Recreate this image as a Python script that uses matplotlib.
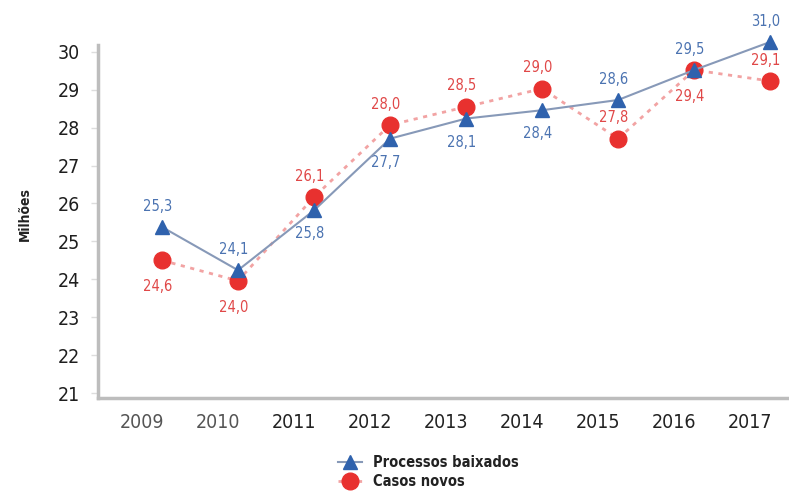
import matplotlib
matplotlib.use("Agg")
import matplotlib.pyplot as plt
from matplotlib.transforms import ScaledTranslation

plt.rcParams['font.family'] = ['DejaVu Sans']
plt.rcParams['font.stretch'] = 'condensed'

years = [2009, 2010, 2011, 2012, 2013, 2014, 2015, 2016, 2017]
baixados = [25.38, 24.24, 25.82, 27.71, 28.24, 28.46, 28.73, 29.52, 30.26]
casos = [24.50, 23.96, 26.17, 28.07, 28.55, 29.03, 27.71, 29.52, 29.23]
baixados_lbl = ['25,3', '24,1', '25,8', '27,7', '28,1', '28,4', '28,6', '29,5', '31,0']
casos_lbl = ['24,6', '24,0', '26,1', '28,0', '28,5', '29,0', '27,8', '29,4', '29,1']
# 1 = label above the marker, -1 = below
baixados_side = [1, 1, -1, -1, -1, -1, 1, 1, 1]
casos_side = [-1, -1, 1, 1, 1, 1, 1, -1, 1]

BLUE = '#2f62ad'
BLUE_LINE = '#8799b8'
BLUE_TXT = '#4b73b1'
RED = '#e8312f'
RED_LINE = '#f2a3a3'
RED_TXT = '#e04848'
GRAY = '#bdbdbd'

fig = plt.figure(figsize=(7.89, 5), dpi=100)
ax = fig.add_axes([0.1242, 0.204, 0.876, 0.706])

ax.plot(years, casos, color=RED_LINE, linestyle=(0, (1.5, 2)), linewidth=2,
        marker='o', markersize=12, markerfacecolor=RED, markeredgecolor=RED,
        label='Casos novos', clip_on=False, zorder=3)
ax.plot(years, baixados, color=BLUE_LINE, linestyle='-', linewidth=1.5,
        marker='^', markersize=10, markerfacecolor=BLUE, markeredgecolor=BLUE,
        label='Processos baixados', clip_on=False, zorder=4)

for x, y, t, s in zip(years, baixados, baixados_lbl, baixados_side):
    ax.annotate(t, (x, y), xytext=(-3, 15 if s > 0 else -17),
                textcoords='offset points', ha='center', va='center',
                fontsize=10.5, color=BLUE_TXT, annotation_clip=False)
for x, y, t, s in zip(years, casos, casos_lbl, casos_side):
    ax.annotate(t, (x, y), xytext=(-3, 15 if s > 0 else -19),
                textcoords='offset points', ha='center', va='center',
                fontsize=10.5, color=RED_TXT, annotation_clip=False)

ax.set_xlim(2008.158, 2017.25)
ax.set_ylim(20.87, 30.18)
ax.set_yticks(range(21, 31))
ax.set_xticks(years)
ax.set_xticklabels([str(y) for y in years])

for side in ['top', 'right']:
    ax.spines[side].set_visible(False)
for side in ['left', 'bottom']:
    ax.spines[side].set_color(GRAY)
    ax.spines[side].set_linewidth(2.5)

ax.tick_params(axis='y', length=5, width=1, color='#dddddd', pad=8,
               labelsize=14, labelcolor='#1e1e1e')
ax.tick_params(axis='x', length=0, pad=11, labelsize=14)
shift = ScaledTranslation(-20 / 100, 0, fig.dpi_scale_trans)
for i, lab in enumerate(ax.get_xticklabels()):
    lab.set_transform(lab.get_transform() + shift)
    lab.set_color('#555555' if i < 2 else '#222222')

ax.set_ylabel('Milhões', fontsize=10, fontweight='bold', color='#222222')
ax.yaxis.set_label_coords(-0.095, 0.52)

handles, labels = ax.get_legend_handles_labels()
leg = fig.legend(handles[::-1], labels[::-1], loc='center left',
                 bbox_to_anchor=(0.412, 0.056), frameon=False,
                 handlelength=1.6, handletextpad=0.8, labelspacing=0.25,
                 prop={'size': 10.5, 'weight': 'bold'})
for t in leg.get_texts():
    t.set_color('#222222')

fig.savefig('out.png', dpi=100)
